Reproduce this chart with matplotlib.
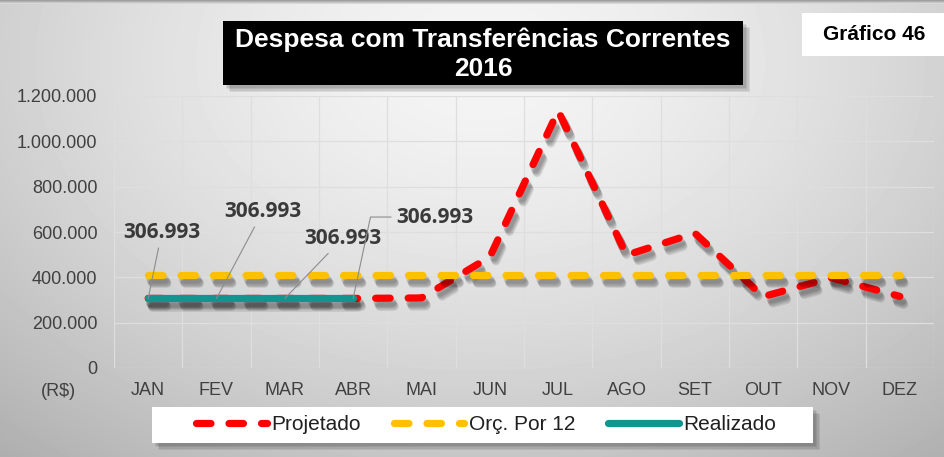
import numpy as np
import matplotlib
matplotlib.use('Agg')
import matplotlib.pyplot as plt
import matplotlib.patheffects as pe
from matplotlib.patches import Rectangle
from matplotlib.lines import Line2D
from matplotlib.ticker import FuncFormatter

# dados do grafico
meses = ['JAN', 'FEV', 'MAR', 'ABR', 'MAI', 'JUN', 'JUL', 'AGO', 'SET', 'OUT', 'NOV', 'DEZ']
projetado = [306993, 306993, 306993, 306993, 309000, 490000, 1135000, 498000, 595000, 315000, 398000, 316000]
orc_por_12 = [410000, 410000, 410000, 410000, 410000, 410000, 410000, 410000, 410000, 410000, 410000, 410000]
realizado = [306993, 306993, 306993, 306993]
y_ticks = [0, 200000, 400000, 600000, 800000, 1000000, 1200000]

# posicao dos rotulos (x em categorias, y em R$)
rotulos_pos = [(0.20, 600000), (1.68, 692000), (2.85, 573000), (4.20, 666000)]

VERMELHO = '#ff0000'
AMARELO = '#ffc000'
VERDE = '#11958f'
CINZA_TXT = '#404040'

W, H = 944, 457
fig = plt.figure(figsize=(W / 100, H / 100), dpi=100)


def fx(px):
    return px / W


def fy(py):
    return 1 - py / H


def fmt_br(v):
    return f'{int(v):,}'.replace(',', '.')


# fundo com degrade
bg = fig.add_axes([0, 0, 1, 1], zorder=-10)
yy, xx = np.mgrid[0:H, 0:W]
d = np.sqrt(((xx - 480) / 472.0) ** 2 + ((yy - 60) / 330.0) ** 2)
shade = 0.96 - 0.14 * d ** 1.5
shade[:4, :] = np.linspace(0.62, 0.85, 4)[:, None]
bg.imshow(shade, cmap='gray', vmin=0, vmax=1, aspect='auto', extent=(0, 1, 0, 1), origin='upper')
bg.set_xlim(0, 1)
bg.set_ylim(0, 1)
bg.axis('off')

# area de plotagem
ax = fig.add_axes([fx(114), fy(368), 820 / W, 272 / H])
ax.patch.set_alpha(0)
x = np.arange(len(meses))


def sombra(lw):
    efs = [pe.SimpleLineShadow(offset=(o * 0.5, -o), shadow_color='k', alpha=0.1, linewidth=lw + 1)
           for o in (3.0, 4.0, 5.0, 6.0)]
    return efs + [pe.Normal()]


lw = 5.2
ax.plot(x, projetado, color=VERMELHO, lw=lw, ls=(0, (2.0, 2.5)), dash_capstyle='round',
        solid_joinstyle='round', path_effects=sombra(lw), zorder=3)
ax.plot(x, orc_por_12, color=AMARELO, lw=lw, ls=(0, (2.0, 2.5)), dash_capstyle='round',
        path_effects=sombra(lw), zorder=4)
ax.plot(x[:len(realizado)], realizado, color=VERDE, lw=lw, solid_capstyle='round',
        path_effects=sombra(lw), zorder=5)

# rotulos de dados com linhas de chamada
for i, (tx, ty) in enumerate(rotulos_pos):
    conn = 'arc3'
    if i == 3:
        conn = 'angle,angleA=0,angleB=78,rad=0'
    ax.annotate(fmt_br(realizado[i]), xy=(i, realizado[i]), xytext=(tx, ty),
                ha='center', va='center', fontsize=15, fontweight='bold',
                family='Open Sans', color='#3a3a3a', zorder=6,
                arrowprops=dict(arrowstyle='-', color='#8c8c8c', lw=0.8,
                                shrinkA=2, shrinkB=0, connectionstyle=conn))

ax.set_xlim(-0.5, len(meses) - 0.5)
ax.set_ylim(0, 1200000)
ax.set_yticks(y_ticks)
ax.yaxis.set_major_formatter(FuncFormatter(lambda v, p: fmt_br(v)))
ax.set_xticks(x, meses)
ax.set_xticks(np.arange(-0.5, len(meses), 1), minor=True)
ax.grid(which='minor', axis='x', color='#dedede', lw=0.9)
ax.grid(which='major', axis='y', color='#dedede', lw=0.9)
ax.grid(which='major', axis='x', visible=False)
ax.set_axisbelow(True)
for s in ax.spines.values():
    s.set_visible(False)
ax.tick_params(which='both', length=0)
ax.tick_params(axis='y', pad=12, labelsize=13, labelcolor=CINZA_TXT)
ax.tick_params(axis='x', pad=10, labelsize=13, labelcolor=CINZA_TXT)
for t in ax.get_xticklabels() + ax.get_yticklabels():
    t.set_family('Liberation Sans')

fig.text(fx(58), fy(392), '(R$)', ha='center', va='center', fontsize=13,
         color=CINZA_TXT, family='Liberation Sans')

# titulo em caixa preta
sombra_caixa = [pe.SimplePatchShadow(offset=(o, -o), shadow_rgbFace='k', alpha=0.08)
                for o in (2, 3, 4, 5)] + [pe.Normal()]
fig.add_artist(Rectangle((fx(223), fy(85)), 520 / W, 64 / H, transform=fig.transFigure,
                         facecolor='black', edgecolor='none', path_effects=sombra_caixa, zorder=2))
fig.text(fx(483), fy(54), 'Despesa com Transferências Correntes\n2016', ha='center', va='center',
         fontsize=19, fontweight='bold', color='white', family='Liberation Sans',
         linespacing=1.25, zorder=3)

# caixa "Grafico 46"
fig.add_artist(Rectangle((fx(802), fy(56)), 142 / W, 43 / H, transform=fig.transFigure,
                         facecolor='white', edgecolor='none', zorder=2))
fig.text(fx(874), fy(35), 'Gráfico 46', ha='center', va='center', fontsize=15,
         fontweight='bold', color='black', family='Liberation Sans', zorder=3)

# legenda
fig.add_artist(Rectangle((fx(152), fy(443)), 661 / W, 36 / H, transform=fig.transFigure,
                         facecolor='white', edgecolor='none', path_effects=sombra_caixa, zorder=2))
handles = [
    Line2D([], [], color=VERMELHO, lw=lw, ls=(0, (2.0, 2.5)), dash_capstyle='round'),
    Line2D([], [], color=AMARELO, lw=lw, ls=(0, (2.0, 2.5)), dash_capstyle='round'),
    Line2D([], [], color=VERDE, lw=lw, solid_capstyle='round'),
]
leg = fig.legend(handles, ['Projetado', 'Orç. Por 12', 'Realizado'], loc='center',
                 bbox_to_anchor=(fx(486), fy(425)), ncol=3, frameon=False,
                 handlelength=3.4, handletextpad=0.2, columnspacing=1.6,
                 prop={'family': 'Liberation Sans', 'size': 15})
leg.set_zorder(4)
for t in leg.get_texts():
    t.set_color('#202020')

fig.savefig('out.png', dpi=100)
